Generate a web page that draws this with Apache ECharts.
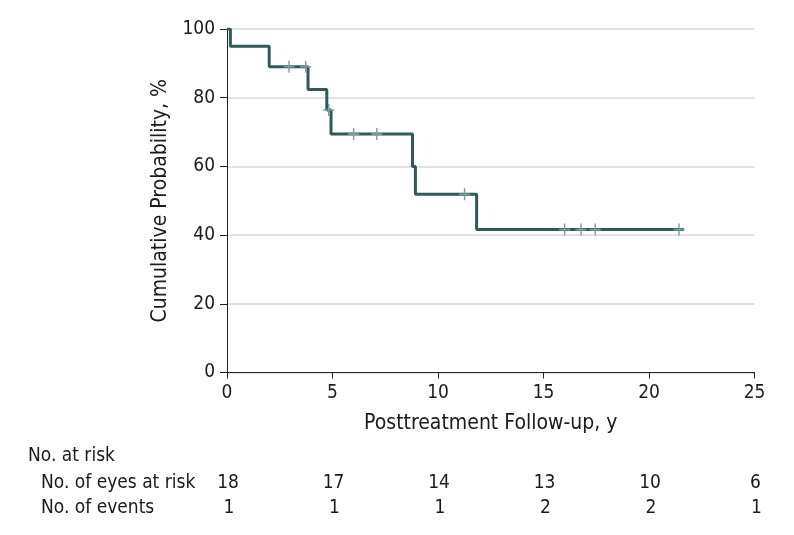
<!DOCTYPE html>
<html><head><meta charset="utf-8">
<script src="https://cdn.jsdelivr.net/npm/echarts@6/dist/echarts.min.js"></script>
<style>html,body{margin:0;padding:0;background:#fff}#c{width:794px;height:535px}</style>
</head><body><div id="c"></div>
<script>
// Kaplan-Meier step curve: times (y) and cumulative probability (%) after each step
var stepTimes = [0, 0.16, 2.0, 3.84, 4.73, 4.93, 8.79, 8.93, 11.83, 21.65];
var stepValues = [100, 95.0, 89.0, 82.4, 76.4, 69.4, 60.0, 51.9, 41.6, 41.6];
// Censored observations
var censorTimes = [2.94, 3.73, 4.82, 6.0, 7.1, 11.26, 16.0, 16.78, 17.45, 21.42];
var censorValues = [89.0, 89.0, 76.4, 69.4, 69.4, 51.9, 41.6, 41.6, 41.6, 41.6];
// Number at risk table
var riskTimes = [0, 5, 10, 15, 20, 25];
var eyesAtRisk = ['18', '17', '14', '13', '10', '6'];
var events = ['1', '1', '1', '2', '2', '1'];

var FONT = "'DejaVu Sans Condensed','Liberation Sans Narrow','DejaVu Sans',sans-serif";
var TXT = '#1a1a1a';
var chart = echarts.init(document.getElementById('c'));
var option = {
  animation: false,
  textStyle: {fontFamily: FONT},
  grid: {left: 227, right: 39.5, top: 29, bottom: 162.5, containLabel: false},
  xAxis: {
    type: 'value', min: 0, max: 25, interval: 5,
    name: 'Posttreatment Follow-up, y', nameLocation: 'middle', nameGap: 41,
    nameTextStyle: {fontSize: 21, color: TXT, fontFamily: FONT},
    axisLine: {show: true, lineStyle: {color: '#222', width: 1}},
    axisTick: {show: true, length: 6, lineStyle: {color: '#222'}},
    axisLabel: {fontSize: 19, color: TXT, margin: 11, fontFamily: FONT},
    splitLine: {show: false}
  },
  yAxis: {
    type: 'value', min: 0, max: 100, interval: 20,
    name: 'Cumulative Probability, %', nameLocation: 'middle', nameGap: 55,
    nameTextStyle: {fontSize: 21, color: TXT, fontFamily: FONT},
    axisLine: {show: true, onZero: false, lineStyle: {color: '#222', width: 1}},
    axisTick: {show: true, length: 7, lineStyle: {color: '#222'}},
    axisLabel: {fontSize: 19, color: TXT, margin: 12, fontFamily: FONT},
    splitLine: {show: true, lineStyle: {color: '#d9d9d9', width: 1.5}}
  },
  series: [
    {
      type: 'line', step: 'end', showSymbol: false,
      data: stepTimes.map(function (t, i) { return [t, stepValues[i]]; }),
      lineStyle: {color: '#2e5a58', width: 3},
      z: 3
    },
    {
      type: 'scatter',
      symbol: 'path://M0,-1L0,1M-1,0L1,0',
      symbolSize: [11, 12],
      data: censorTimes.map(function (t, i) { return [t, censorValues[i]]; }),
      itemStyle: {color: 'none', borderColor: '#7d9e9c', borderWidth: 1.5, opacity: 1},
      z: 4
    }
  ]
};
chart.setOption(option);

var F = '19px ' + FONT;
var g = [];
g.push({type: 'text', x: 28, y: 456, style: {text: 'No. at risk', font: F, fill: TXT, textVerticalAlign: 'middle'}});
g.push({type: 'text', x: 41, y: 483, style: {text: 'No. of eyes at risk', font: F, fill: TXT, textVerticalAlign: 'middle'}});
g.push({type: 'text', x: 41, y: 508, style: {text: 'No. of events', font: F, fill: TXT, textVerticalAlign: 'middle'}});
riskTimes.forEach(function (t, i) {
  var x = chart.convertToPixel({xAxisIndex: 0}, t);
  g.push({type: 'text', x: x + 1, y: 483, style: {text: eyesAtRisk[i], font: F, fill: TXT, textAlign: 'center', textVerticalAlign: 'middle'}});
  g.push({type: 'text', x: x + 2, y: 508, style: {text: events[i], font: F, fill: TXT, textAlign: 'center', textVerticalAlign: 'middle'}});
});
chart.setOption({graphic: g});
</script></body></html>
